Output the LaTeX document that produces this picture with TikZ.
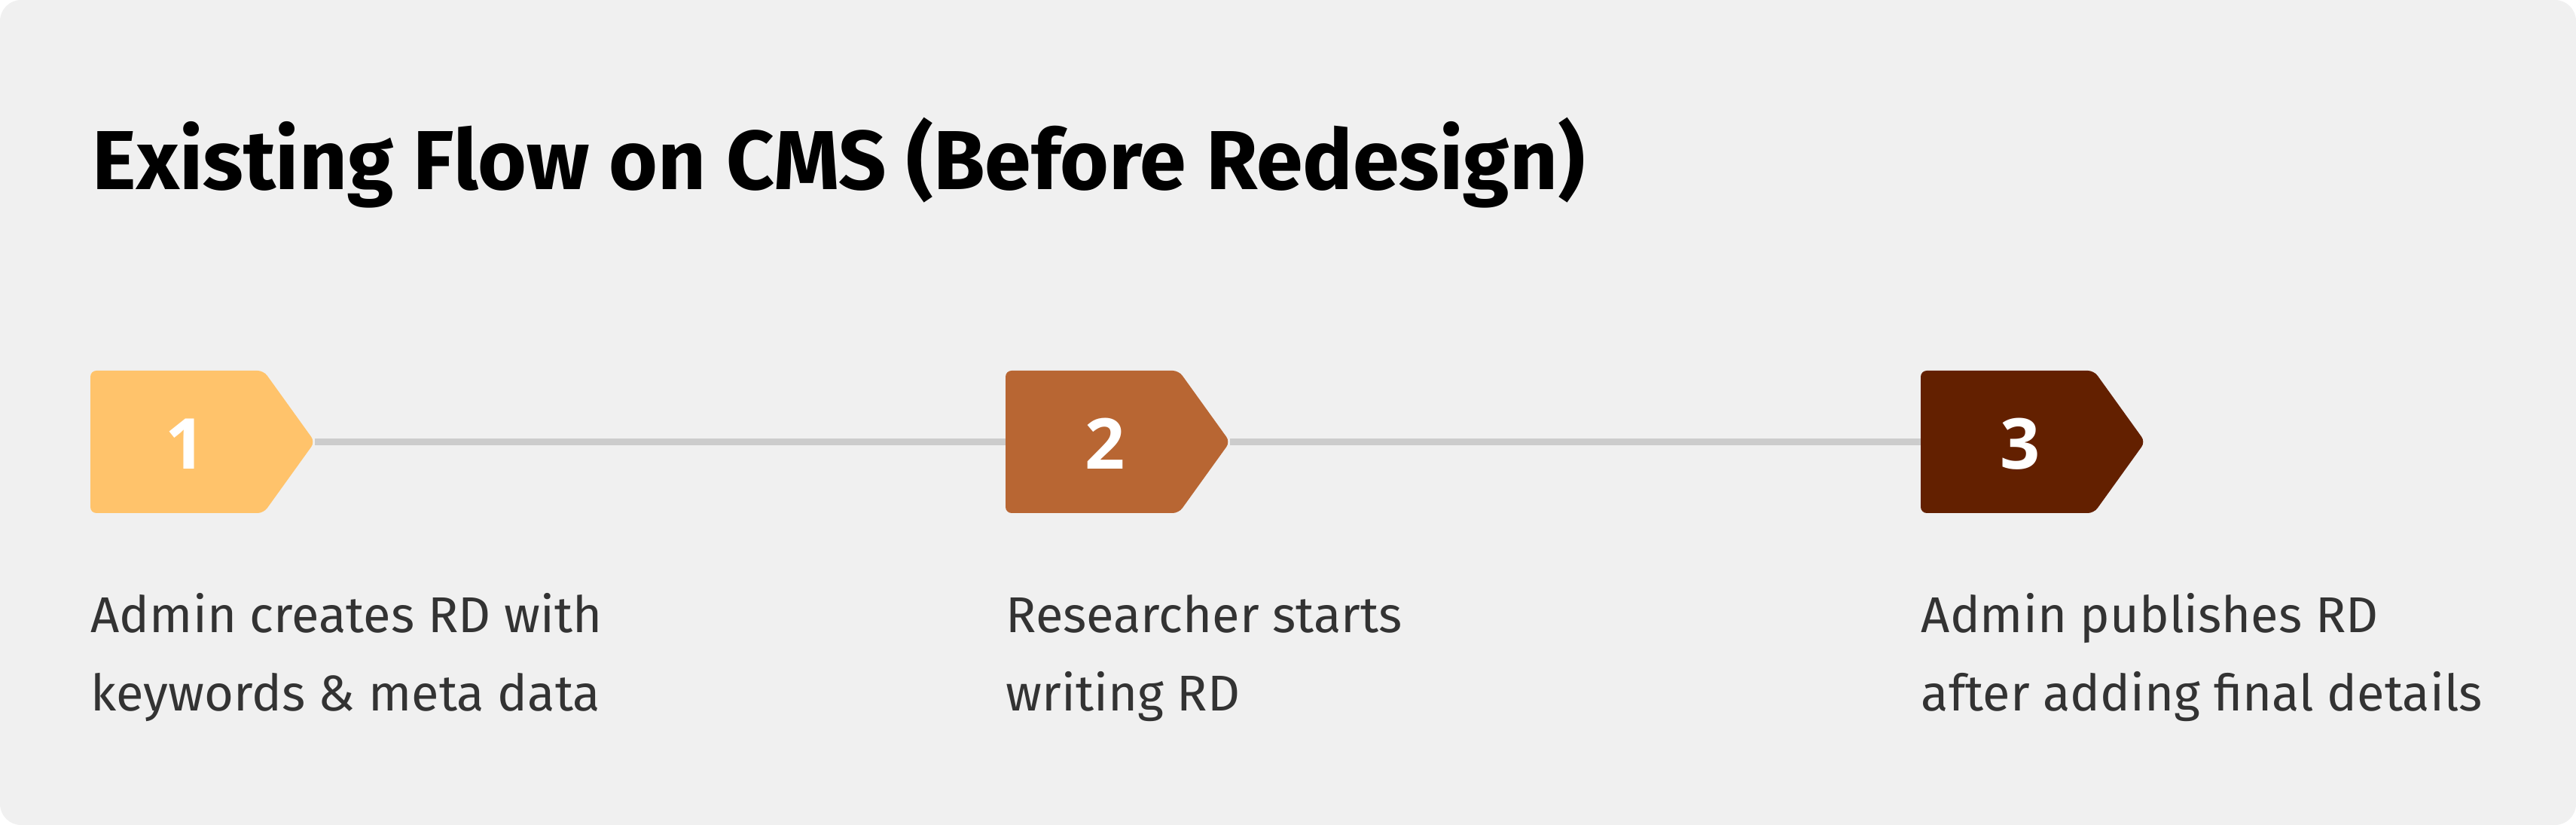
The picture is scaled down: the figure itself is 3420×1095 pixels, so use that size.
\documentclass[tikz,border=0pt]{standalone}
\usepackage{fontspec}
\setmainfont{Fira Sans}
\newfontfamily\numfont{Open Sans}
\definecolor{bgc}{HTML}{F0F0F0}
\definecolor{linec}{HTML}{CCCCCC}
\definecolor{cone}{HTML}{FFC36B}
\definecolor{ctwo}{HTML}{B86633}
\definecolor{cthree}{HTML}{632000}
\definecolor{txtc}{HTML}{333333}
\begin{document}
\begin{tikzpicture}[x=0.01cm,y=-0.01cm,
  stepshape/.style={rounded corners=0.08cm},
  numtext/.style={text=white, font=\numfont\bfseries\fontsize{26.5}{26.5}\selectfont, inner sep=0, anchor=center},
  desc/.style={text=txtc, font=\fontsize{19}{29.6}\selectfont, inner sep=0, anchor=base west, align=left},
  conn/.style={draw=linec, line width=2.3pt}]
\useasboundingbox (0,0) rectangle (3420,1095);
\fill[white] (0,0) rectangle (3420,1095);
\fill[bgc, rounded corners=0.28cm] (0,0) rectangle (3420,1095);
\node[anchor=base west, inner sep=0, font=\bfseries\fontsize{31.6}{31.6}\selectfont] (title) at (122,252) {Existing Flow on CMS (Before Redesign)};
% anchor points
\foreach \i/\x in {1/120,2/1335,3/2550}{
  \coordinate (in\i) at (\x,586.5);
  \coordinate (tip\i) at (\x+298,586.5);
}
\draw[conn] (tip1) -- (in2);
\draw[conn] (tip2) -- (in3);
\foreach \i/\x/\c in {1/120/cone,2/1335/ctwo,3/2550/cthree}{
  \fill[\c, stepshape] (\x,492) -- (\x+230,492) -- (\x+298,586.5) -- (\x+230,681) -- (\x,681) -- cycle;
}
\node[numtext] (n1) at (246,589) {1};
\node[numtext] (n2) at (1467,589) {2};
\node[numtext] (n3) at (2682,589) {3};
\node[desc] (d1) at (120,944) {Admin creates RD with\\keywords \& meta data};
\node[desc] (d2) at (1335,944) {Researcher starts\\writing RD};
\node[desc] (d3) at (2550,944) {Admin publishes RD\\after adding final details};
\end{tikzpicture}
\end{document}
